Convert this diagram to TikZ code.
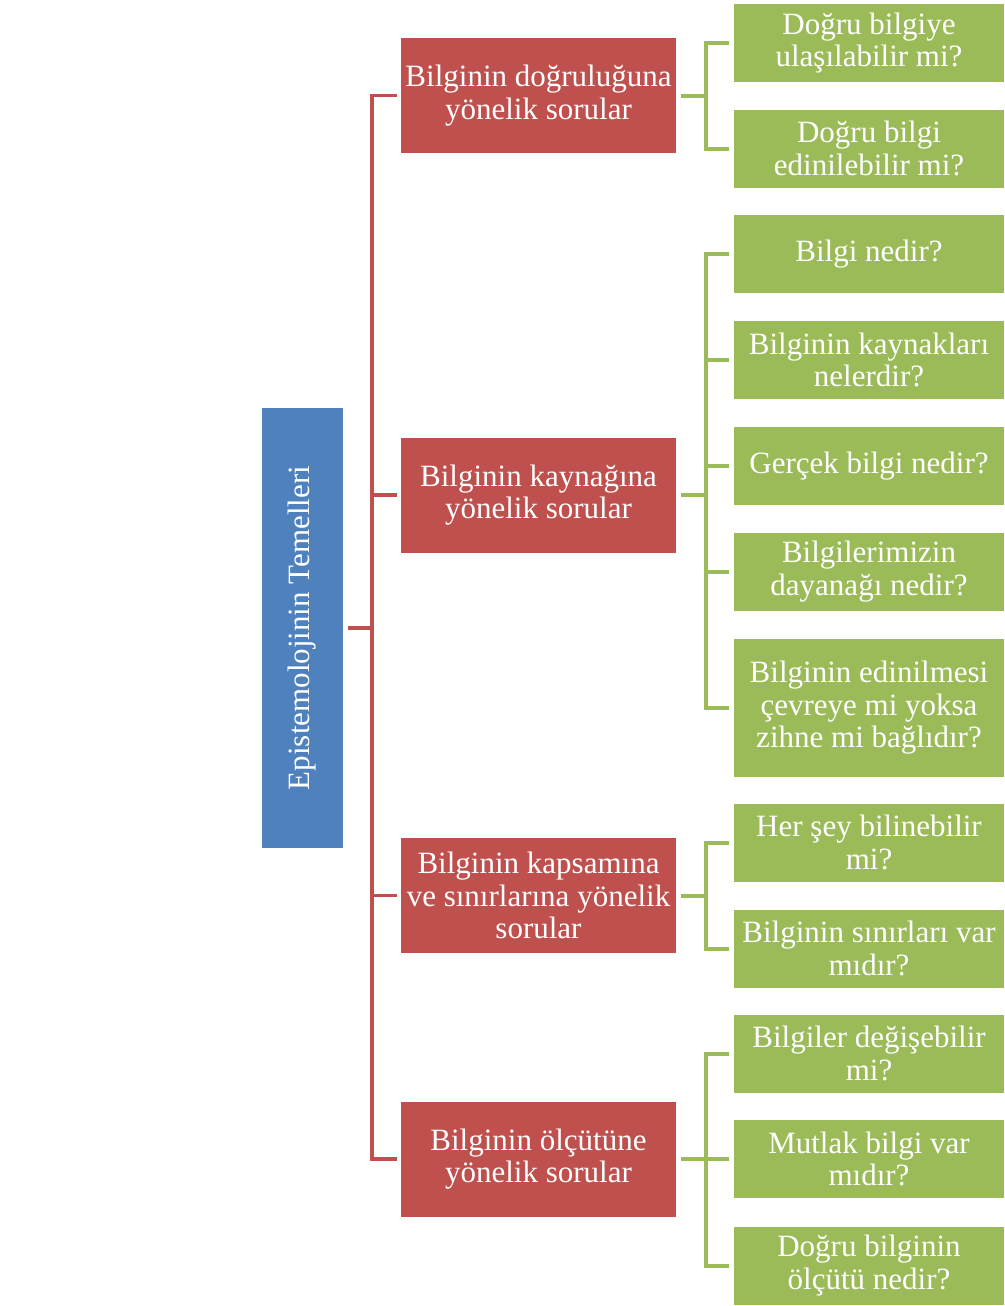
\documentclass[tikz,border=0pt]{standalone}
\usepackage{fontspec}
\setmainfont{Liberation Serif}
\definecolor{boxred}{HTML}{C0504D}
\definecolor{boxgreen}{HTML}{9BBB59}
\definecolor{boxblue}{HTML}{4F81BD}
\begin{document}
\begin{tikzpicture}[x=1pt,y=-1pt,
  every node/.style={text=white,align=center,inner sep=0pt,font=\fontsize{31}{32.5}\selectfont},
  rootbox/.style={fill=boxblue,minimum width=440pt,minimum height=81pt,rotate=90},
  topicbox/.style={fill=boxred,minimum width=275pt,minimum height=115pt},
  questionbox/.style={fill=boxgreen,minimum width=270pt,minimum height=78pt},
  redline/.style={boxred,line width=3.5pt},
  greenline/.style={boxgreen,line width=4pt}]
  \useasboundingbox (0,0) rectangle (1004,1306);
  \node[rootbox] (root) at (302.5,628) {Epistemolojinin Temelleri};
  \node[topicbox] (t1) at (538.5,95.5) {Bilginin doğruluğuna\\yönelik sorular};
  \node[topicbox] (t2) at (538.5,495) {Bilginin kaynağına\\yönelik sorular};
  \node[topicbox] (t3) at (538.5,895.5) {Bilginin kapsamına\\ve sınırlarına yönelik\\sorular};
  \node[topicbox] (t4) at (538.5,1159) {Bilginin ölçütüne\\yönelik sorular};
  \node[questionbox] (a1) at (869,43) {Doğru bilgiye\\ulaşılabilir mi?};
  \node[questionbox] (a2) at (869,148.5) {Doğru bilgi\\edinilebilir mi?};
  \node[questionbox] (b1) at (869,254) {Bilgi nedir?};
  \node[questionbox] (b2) at (869,360) {Bilginin kaynakları\\nelerdir?};
  \node[questionbox] (b3) at (869,466) {Gerçek bilgi nedir?};
  \node[questionbox] (b4) at (869,571.5) {Bilgilerimizin\\dayanağı nedir?};
  \node[questionbox,minimum height=138pt] (b5) at (869,708) {Bilginin edinilmesi\\çevreye mi yoksa\\zihne mi bağlıdır?};
  \node[questionbox] (c1) at (869,842.5) {Her şey bilinebilir\\mi?};
  \node[questionbox] (c2) at (869,948.5) {Bilginin sınırları var\\mıdır?};
  \node[questionbox] (d1) at (869,1053.5) {Bilgiler değişebilir\\mi?};
  \node[questionbox] (d2) at (869,1159) {Mutlak bilgi var\\mıdır?};
  \node[questionbox] (d3) at (869,1265.5) {Doğru bilginin\\ölçütü nedir?};
  \coordinate (trunk) at (372,0);
  \coordinate (spine) at (706,0);
  \draw[redline,line cap=rect] (t1.west -| trunk) -- (t4.west -| trunk);
  \draw[redline,shorten <=5pt] (root.south) -- (root.south -| trunk);
  \foreach \t in {t1,t2,t3,t4}
    \draw[redline,shorten >=4pt] (\t.west -| trunk) -- (\t.west);
  \foreach \t in {t1,t2,t3,t4}
    \draw[greenline,shorten <=5pt] (\t.east) -- (\t.east -| spine);
  \draw[greenline,line cap=rect] (a1.west -| spine) -- (a2.west -| spine);
  \draw[greenline,line cap=rect] (b1.west -| spine) -- (b5.west -| spine);
  \draw[greenline,line cap=rect] (c1.west -| spine) -- (c2.west -| spine);
  \draw[greenline,line cap=rect] (d1.west -| spine) -- (d3.west -| spine);
  \foreach \k in {a1,a2,b1,b2,b3,b4,b5,c1,c2,d1,d2,d3}
    \draw[greenline,shorten >=5pt] (\k.west -| spine) -- (\k.west);
\end{tikzpicture}
\end{document}
